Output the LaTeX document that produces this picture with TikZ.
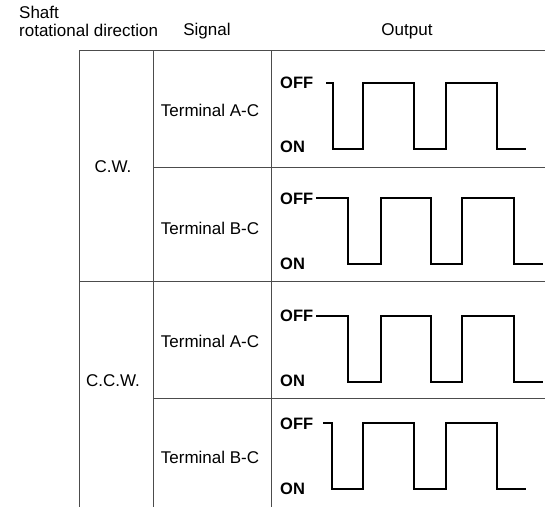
\documentclass[tikz,border=0pt]{standalone}
\usepackage{fontspec}
\setmainfont{Liberation Sans}
\begin{document}
\begin{tikzpicture}[x=1pt,y=-1pt,
  grid/.style={draw=black!70,line width=0.9pt},
  wave/.style={draw=black,line width=1.7pt,line join=miter},
  txt/.style={font=\fontsize{17}{19}\selectfont,inner sep=0pt},
  lvl/.style={font=\bfseries\fontsize{16.5}{19}\selectfont,inner sep=0pt,anchor=west}]
\useasboundingbox (0,0) rectangle (545,507);
\fill[white] (0,0) rectangle (545,507);
% headers
\node[txt,anchor=west] (h1) at (19,12) {Shaft};
\node[txt,anchor=west] (h2) at (19,30) {rotational direction};
\node[txt] (h3) at (207,31) {Signal};
\node[txt] (h4) at (407,31) {Output};
% grid
\draw[grid] (79,50) -- (545,50);
\draw[grid] (79,50) -- (79,507);
\draw[grid] (153,50) -- (153,507);
\draw[grid] (271,50) -- (271,507);
\draw[grid] (153,167) -- (545,167);
\draw[grid] (79,281) -- (545,281);
\draw[grid] (153,398) -- (545,398);
% labels
\node[txt] (cw) at (113,167) {C.W.};
\node[txt] (ccw) at (113,381) {C.C.W.};
\node[txt] (t1) at (210,110) {Terminal A-C};
\node[txt] (t2) at (210,228) {Terminal B-C};
\node[txt] (t3) at (210,341) {Terminal A-C};
\node[txt] (t4) at (210,457) {Terminal B-C};
% level labels
\node[lvl] (off1) at (280,83) {OFF};
\node[lvl] (on1) at (280,147) {ON};
\node[lvl] (off2) at (280,199) {OFF};
\node[lvl] (on2) at (280,264) {ON};
\node[lvl] (off3) at (280,316) {OFF};
\node[lvl] (on3) at (280,381) {ON};
\node[lvl] (off4) at (280,424) {OFF};
\node[lvl] (on4) at (280,489) {ON};
% waveforms
\draw[wave] (326,83) -- (333,83) -- (333,149) -- (363,149) -- (363,83) -- (414,83) -- (414,149) -- (446,149) -- (446,83) -- (497,83) -- (497,149) -- (526,149);
\draw[wave] (316,198) -- (348,198) -- (348,264) -- (381,264) -- (381,198) -- (431,198) -- (431,264) -- (462,264) -- (462,198) -- (514,198) -- (514,264) -- (543,264);
\draw[wave] (316,316) -- (348,316) -- (348,382) -- (381,382) -- (381,316) -- (431,316) -- (431,382) -- (462,382) -- (462,316) -- (514,316) -- (514,382) -- (543,382);
\draw[wave] (323,423) -- (332,423) -- (332,489) -- (363,489) -- (363,423) -- (414,423) -- (414,489) -- (446,489) -- (446,423) -- (497,423) -- (497,489) -- (526,489);
\end{tikzpicture}
\end{document}
